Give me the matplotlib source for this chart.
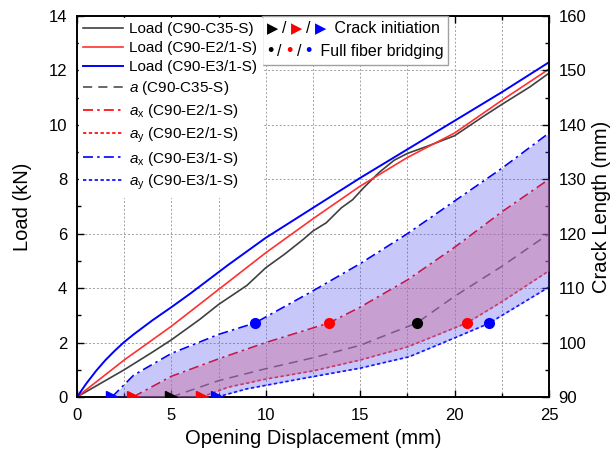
import numpy as np
import matplotlib
matplotlib.use('Agg')
import matplotlib.pyplot as plt
from matplotlib.offsetbox import TextArea, HPacker, VPacker, AnchoredOffsetbox

plt.rcParams['font.family'] = ['Liberation Sans', 'DejaVu Sans']
plt.rcParams['mathtext.fontset'] = 'custom'
plt.rcParams['mathtext.rm'] = 'Liberation Sans'
plt.rcParams['mathtext.it'] = 'Liberation Sans:italic'

# load vs opening displacement (kN)
x_load_c35 = [0, 1, 2.5, 4, 5, 6.5, 7.5, 9, 10, 11, 12, 12.5, 13.2, 14, 14.6, 15.2, 16, 16.8, 17.5, 18.5, 20, 21.5, 22.5, 24, 25]
load_c35 = [0, 0.4, 1.0, 1.65, 2.1, 2.85, 3.4, 4.1, 4.75, 5.25, 5.8, 6.1, 6.4, 6.95, 7.25, 7.7, 8.25, 8.7, 8.95, 9.2, 9.6, 10.3, 10.75, 11.4, 11.9]
x_load_e2 = [0, 2.5, 5, 7.5, 10, 12.5, 15, 17.5, 20, 22.5, 25]
load_e2 = [0, 1.36, 2.6, 3.95, 5.3, 6.55, 7.75, 8.8, 9.7, 10.9, 12.05]
x_load_e3 = [0, 0.5, 1, 1.5, 2, 2.5, 3, 4, 5, 6, 8, 10, 12.5, 15, 17.5, 20, 22.5, 25]
load_e3 = [0, 0.5, 0.95, 1.35, 1.7, 2.02, 2.3, 2.82, 3.3, 3.8, 4.85, 5.85, 6.95, 8.05, 9.1, 10.15, 11.2, 12.3]

# crack length (mm)
x_a_c35 = [5.0, 7.5, 10, 12.5, 15, 18, 20, 22.5, 25]
a_c35 = [90, 93, 95.2, 97.2, 99.5, 103.6, 108.5, 114, 120]
x_ax_e2 = [2.97, 5, 7.5, 10, 13.35, 15, 17.5, 20, 22.5, 25]
ax_e2 = [90, 93.8, 97, 100, 103.6, 106.5, 111.5, 117.5, 124, 130]
x_ay_e2 = [6.6, 8, 10, 12.5, 15, 17.5, 20.65, 22.5, 25]
ay_e2 = [90, 91.8, 93.3, 94.8, 96.8, 99.2, 103.6, 107.5, 113.2]
x_ax_e3 = [1.85, 3, 5, 7.5, 9.43, 12.5, 15, 17.5, 20, 22.5, 25]
ax_e3 = [90, 94, 98, 101.5, 103.6, 109.5, 114.5, 120, 126, 132, 138.5]
x_ay_e3 = [7.42, 9, 11.8, 15, 17.6, 20.1, 21.8, 25]
ay_e3 = [90, 91.5, 93.3, 95.3, 97.4, 101, 103.5, 110.2]

# crack initiation (x at a = 90) and full fiber bridging points
init_x = [5.0, 2.97, 6.6, 1.85, 7.42]
init_c = ['k', 'r', 'r', 'b', 'b']
bridge_x = [18.0, 13.35, 20.65, 9.43, 21.8]
bridge_a = [103.6, 103.6, 103.6, 103.6, 103.6]
bridge_c = ['k', 'r', 'r', 'b', 'b']

fig = plt.figure(figsize=(6.1, 4.57), dpi=100)
ax = fig.add_axes([0.1262, 0.1313, 0.7738, 0.8337])
ax2 = ax.twinx()

l1, = ax.plot(x_load_c35, load_c35, color='#404040', lw=1.2, label='Load (C90-C35-S)')
l2, = ax.plot(x_load_e2, load_e2, color='#ff3030', lw=1.2, label='Load (C90-E2/1-S)')
l3, = ax.plot(x_load_e3, load_e3, color='#0000ff', lw=1.4, label='Load (C90-E3/1-S)')

l4, = ax2.plot(x_a_c35, a_c35, color='#404040', lw=1.1, ls=(0, (6, 4)), label=r'$\mathit{a}$ (C90-C35-S)')
l5, = ax2.plot(x_ax_e2, ax_e2, color='#ff0000', lw=1.2, ls=(0, (6, 2.5, 1.5, 2.5)), label=r'$\mathit{a}_\mathrm{x}$ (C90-E2/1-S)')
l6, = ax2.plot(x_ay_e2, ay_e2, color='#ff0000', lw=1.2, ls=(0, (2, 1.5)), label=r'$\mathit{a}_\mathrm{y}$ (C90-E2/1-S)')
l7, = ax2.plot(x_ax_e3, ax_e3, color='#0000ff', lw=1.2, ls=(0, (6, 2.5, 1.5, 2.5)), label=r'$\mathit{a}_\mathrm{x}$ (C90-E3/1-S)')
l8, = ax2.plot(x_ay_e3, ay_e3, color='#0000ff', lw=1.2, ls=(0, (2, 1.5)), label=r'$\mathit{a}_\mathrm{y}$ (C90-E3/1-S)')

# shaded bands between a_x and a_y, laid over the lines
xs = np.linspace(1.85, 25, 400)
up_b = np.interp(xs, x_ax_e3, ax_e3)
lo_b = np.interp(xs, x_ay_e3, ay_e3, left=90)
ax2.fill_between(xs, lo_b, up_b, color=(72/255, 72/255, 238/255), alpha=0.3, lw=0, zorder=3)
xs2 = np.linspace(2.97, 25, 400)
up_r = np.interp(xs2, x_ax_e2, ax_e2)
lo_r = np.interp(xs2, x_ay_e2, ay_e2, left=90)
ax2.fill_between(xs2, lo_r, up_r, color=(200/255, 111/255, 161/255), alpha=0.45, lw=0, zorder=3)

for xi, c in zip(init_x, init_c):
    ax2.plot(xi, 90, marker='>', color=c, ms=9, ls='none', zorder=5)
for xi, ai, c in zip(bridge_x, bridge_a, bridge_c):
    ax2.plot(xi, ai, marker='o', color=c, ms=7, ls='none', zorder=5)

ax.set_xlim(0, 25)
ax.set_ylim(0, 14)
ax2.set_ylim(90, 160)
ax.set_xticks([0, 5, 10, 15, 20, 25])
ax.set_xticks(np.arange(2.5, 25, 5), minor=True)
ax.set_yticks(np.arange(0, 15, 2))
ax.set_yticks(np.arange(1, 14, 2), minor=True)
ax2.set_yticks(np.arange(90, 161, 10))
ax2.set_yticks(np.arange(95, 160, 10), minor=True)

ax.tick_params(which='both', direction='in', top=True, right=False, labelsize=12)
ax.tick_params(axis='x', pad=8)
ax.tick_params(axis='y', pad=7)
ax.tick_params(which='major', length=5, width=1)
ax.tick_params(which='minor', length=3, width=1)
ax2.tick_params(which='both', direction='in', labelsize=12, pad=7)
ax2.tick_params(which='major', length=5, width=1)
ax2.tick_params(which='minor', length=3, width=1)
for a_ in (ax, ax2):
    for s in a_.spines.values():
        s.set_linewidth(1.2)

for gx in np.arange(2.5, 25, 2.5):
    ax.axvline(gx, color='#a0a0a0', lw=0.7, ls=(0, (2, 2)), zorder=0)
for gy in np.arange(2, 14, 2):
    ax.axhline(gy, color='#a0a0a0', lw=0.7, ls=(0, (2, 2)), zorder=0)

ax.set_xlabel('Opening Displacement (mm)', fontsize=14.5, labelpad=4)
ax.set_ylabel('Load (kN)', fontsize=14.5, labelpad=12)
ax2.set_ylabel('Crack Length (mm)', fontsize=14.5, labelpad=4)

leg = ax2.legend(handles=[l1, l2, l3, l4, l5, l6, l7, l8], loc='upper left',
                 fontsize=11, handlelength=2.6, handletextpad=0.4, labelspacing=0.33,
                 borderaxespad=0.1, borderpad=0.3, frameon=True, fancybox=False,
                 framealpha=1, edgecolor='white')
leg.set_zorder(10)

# marker key: crack initiation / full fiber bridging
def key_row(sym, size, label):
    parts = []
    for c, sep in (('k', '/'), ('r', '/'), ('b', '')):
        parts.append(TextArea(sym, textprops=dict(color=c, fontsize=size)))
        if sep:
            parts.append(TextArea(sep, textprops=dict(color='k', fontsize=11.5)))
    parts.append(TextArea(' ' + label, textprops=dict(color='k', fontsize=11.5)))
    return HPacker(children=parts, align='baseline', pad=0, sep=3)

box = VPacker(children=[key_row('\u25b6', 10.5, 'Crack initiation'),
                        key_row('\u2022', 13, 'Full fiber bridging')],
              align='left', pad=0, sep=5)
anch = AnchoredOffsetbox(loc='upper left', child=box, pad=0.35, borderpad=0,
                         frameon=True, bbox_to_anchor=(0.392, 1.0),
                         bbox_transform=ax2.transAxes)
anch.patch.set_edgecolor('#a0a0a0')
anch.patch.set_linewidth(1)
anch.set_zorder(10)
ax2.add_artist(anch)

fig.savefig('out.png', dpi=100)
